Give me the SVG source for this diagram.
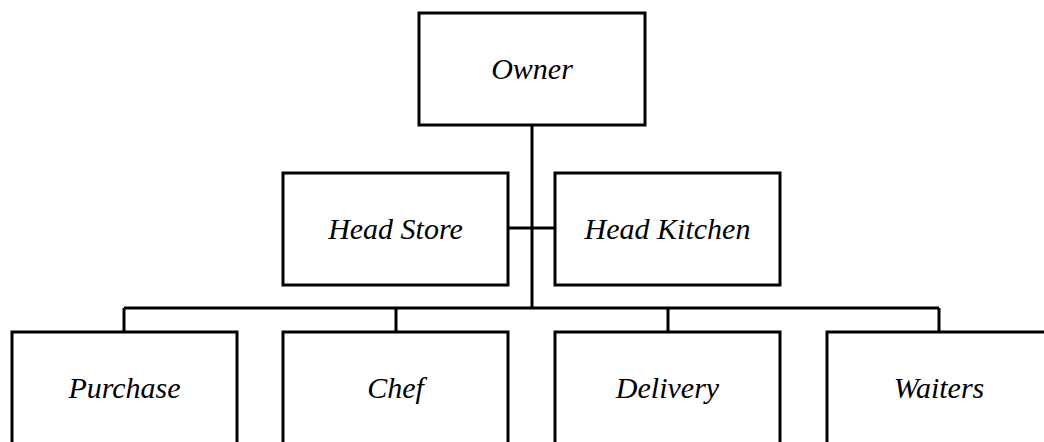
<svg xmlns="http://www.w3.org/2000/svg" width="1044" height="442" viewBox="0 0 1044 442">
<style>
.box{fill:#fff;stroke:#000;stroke-width:3}
.lbl{font-family:'Liberation Serif','Times New Roman','DejaVu Serif',serif;font-style:italic;font-size:30px;fill:#000;text-anchor:middle}
.conn{fill:none;stroke:#000;stroke-width:3}
</style>
<rect width="1044" height="442" fill="#fff"/>
<g id="connectors" class="conn">
<path d="M532 125V308"/>
<path d="M508 228H555"/>
<path d="M124 308H939"/>
<path d="M124 308V332M396 308V332M668 308V332M939 308V332"/>
</g>
<g id="owner"><rect class="box" x="419" y="13" width="226" height="112"/><text class="lbl" x="532" y="79" font-family="Liberation Serif, serif" font-style="italic">Owner</text></g>
<g id="head-store"><rect class="box" x="283" y="173" width="225" height="112"/><text class="lbl" x="395.5" y="239" font-family="Liberation Serif, serif" font-style="italic">Head Store</text></g>
<g id="head-kitchen"><rect class="box" x="555" y="173" width="225" height="112"/><text class="lbl" x="667.5" y="239" font-family="Liberation Serif, serif" font-style="italic">Head Kitchen</text></g>
<g id="purchase"><rect class="box" x="12" y="332" width="225" height="120"/><text class="lbl" x="124.5" y="398" font-family="Liberation Serif, serif" font-style="italic">Purchase</text></g>
<g id="chef"><rect class="box" x="283" y="332" width="225" height="120"/><text class="lbl" x="395.5" y="398" font-family="Liberation Serif, serif" font-style="italic">Chef</text></g>
<g id="delivery"><rect class="box" x="555" y="332" width="225" height="120"/><text class="lbl" x="667.5" y="398" font-family="Liberation Serif, serif" font-style="italic">Delivery</text></g>
<g id="waiters"><rect class="box" x="827" y="332" width="225" height="120"/><text class="lbl" x="939" y="398" font-family="Liberation Serif, serif" font-style="italic">Waiters</text></g>
</svg>
